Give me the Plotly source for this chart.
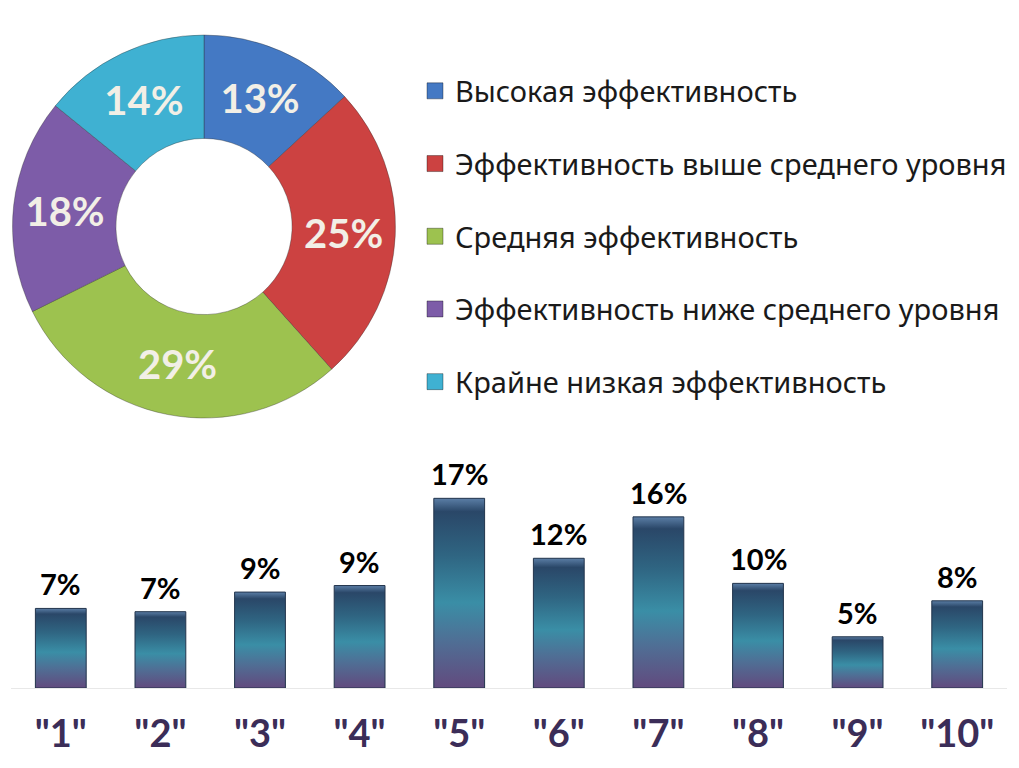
import plotly.graph_objects as go

# ---- Donut data ----
pie_labels = [
    "Высокая эффективность",
    "Эффективность выше среднего уровня",
    "Средняя эффективность",
    "Эффективность ниже среднего уровня",
    "Крайне низкая эффективность",
]
pie_values = [13, 25, 29, 18, 14]
pie_colors = ["#4479c4", "#cc4241", "#9dc24f", "#7d5ca8", "#3fb1d2"]

# ---- Bar data ----
bar_categories = ['"1"', '"2"', '"3"', '"4"', '"5"', '"6"', '"7"', '"8"', '"9"', '"10"']
bar_values = [7.3, 7.0, 8.8, 9.4, 17.4, 11.9, 15.7, 9.6, 4.7, 8.0]

W, H = 1019, 768
OFF = 8  # page body margin


def fx(px):
    return (px - OFF) / W


def fy(py):
    return 1 - (py - OFF) / H


fig = go.Figure()

fig.add_trace(go.Pie(
    labels=pie_labels, values=pie_values,
    hole=0.46, sort=False, direction="clockwise", rotation=0,
    marker=dict(colors=pie_colors, line=dict(color="rgba(40,40,40,0.35)", width=1)),
    texttemplate="%{value}%", textposition="inside", insidetextorientation="horizontal",
    textfont=dict(family="Lato, Noto Sans", size=40, color="#f2efe6", weight="bold"),
    domain=dict(x=[fx(10), fx(398)], y=[fy(418), fy(35)]),
    showlegend=False,
))

# legend entries for the donut slices
for lab, col in zip(pie_labels, pie_colors):
    fig.add_trace(go.Scatter(
        x=[None], y=[None], mode="markers", name=lab, legendgroup=lab,
        marker=dict(symbol="square", size=16, color=col,
                    line=dict(color="rgba(0,0,0,0.35)", width=1)),
        showlegend=True, hoverinfo="skip",
    ))

# gradient bars
bw = 0.51
grad = [[0.0, "#624a7e"], [0.25, "#4f6f95"], [0.45, "#3a8ea6"], [0.7, "#2f6582"], [0.93, "#2a4768"], [1.0, "#5b7ea6"]]
for i, v in enumerate(bar_values):
    xs = [i - bw / 2, i + bw / 2, i + bw / 2, i - bw / 2, i - bw / 2]
    ys = [0, 0, v, v, 0]
    fig.add_trace(go.Scatter(
        x=xs, y=ys, mode="lines", fill="toself",
        fillgradient=dict(type="vertical", colorscale=grad, start=0, stop=v),
        line=dict(color="#22344c", width=1),
        showlegend=False, hoverinfo="skip",
    ))

annotations = [
    dict(x=i, y=v, xref="x", yref="y", text=f"{v:.0f}%", showarrow=False,
         yanchor="bottom", yshift=5,
         font=dict(family="Lato, Noto Sans", size=29, color="#000000", weight="bold"))
    for i, v in enumerate(bar_values)
]

fig.update_layout(
    width=W, height=H,
    margin=dict(l=0, r=0, t=0, b=0),
    paper_bgcolor="white", plot_bgcolor="white",
    annotations=annotations,
    legend=dict(
        x=(447 - 40 + 8 - OFF) / W, xanchor="left", y=1 - 57.5 / H, yanchor="top",
        font=dict(family="Noto Sans", size=29, color="#1a1a1a"),
        tracegroupgap=32, bgcolor="rgba(0,0,0,0)",
    ),
    xaxis=dict(
        domain=[fx(11), fx(1007)], range=[-0.5, len(bar_values) - 0.5],
        tickvals=list(range(len(bar_values))), ticktext=bar_categories,
        showgrid=False, zeroline=False, showline=True, linecolor="#e8e8e8", linewidth=1,
        ticks="", ticklabelstandoff=12,
        tickfont=dict(family="Lato, Noto Sans", size=38, color="#3b2d58", weight="bold"),
        fixedrange=True,
    ),
    yaxis=dict(
        domain=[fy(688), fy(470)], range=[0, 20],
        showgrid=False, zeroline=False, showticklabels=False, showline=False,
        fixedrange=True,
    ),
)

fig.write_html("out.html")
